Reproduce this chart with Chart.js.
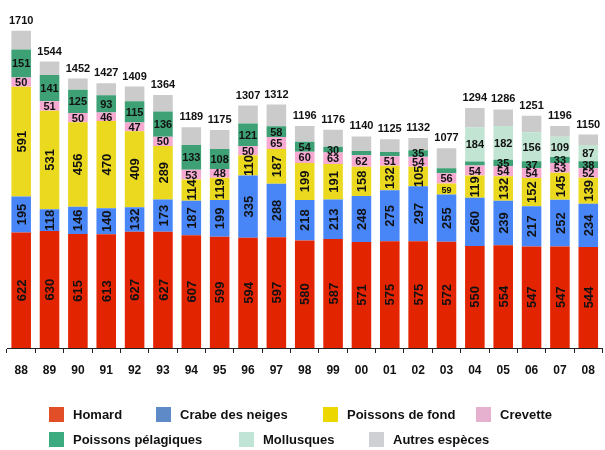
<!DOCTYPE html>
<html>
<head>
<meta charset="utf-8">
<script src="https://cdn.jsdelivr.net/npm/chart.js@4.4.1/dist/chart.umd.min.js"></script>
<style>
  html, body { margin: 0; padding: 0; background: #fff; }
  #wrap { width: 605px; height: 450px; position: relative; }
</style>
</head>
<body>
<div id="wrap"><canvas id="landings"></canvas></div>
<script>
const years = ['88', '89', '90', '91', '92', '93', '94', '95', '96', '97', '98', '99', '00', '01', '02', '03', '04', '05', '06', '07', '08'];

const homard = [622, 630, 615, 613, 627, 627, 607, 599, 594, 597, 580, 587, 571, 575, 575, 572, 550, 554, 547, 547, 544];
const crabe = [195, 118, 146, 140, 132, 173, 187, 199, 335, 288, 218, 213, 248, 275, 297, 255, 260, 239, 217, 252, 234];
const poissonsFond = [591, 531, 456, 470, 409, 289, 114, 119, 110, 187, 199, 191, 158, 132, 105, 59, 119, 132, 152, 145, 139];
const crevette = [50, 51, 50, 46, 47, 50, 53, 48, 50, 65, 60, 63, 62, 51, 54, 56, 54, 54, 54, 53, 52];
const pelagiques = [151, 141, 125, 93, 115, 136, 133, 108, 121, 58, 54, 30, 23, 23, 35, 27, 22, 35, 37, 33, 38];
const mollusques = [0, 0, 0, 0, 0, 0, 0, 0, 0, 0, 0, 0, 0, 0, 0, 0, 184, 182, 156, 109, 87];
const autres = [101, 73, 60, 65, 79, 89, 95, 102, 97, 117, 85, 92, 78, 69, 66, 108, 105, 90, 88, 57, 56];
const totals = [1710, 1544, 1452, 1427, 1409, 1364, 1189, 1175, 1307, 1312, 1196, 1176, 1140, 1125, 1132, 1077, 1294, 1286, 1251, 1196, 1150];

const FONT = 'Liberation Sans, Arial, Helvetica, sans-serif';

// value labels inside the segments + totals above each bar
const segmentLabels = {
    id: 'segmentLabels',
    afterDatasetsDraw(chart) {
        const ctx = chart.ctx;
        ctx.save();
        ctx.fillStyle = '#111';
        ctx.textAlign = 'center';
        ctx.textBaseline = 'middle';

        chart.data.datasets.forEach((ds, di) => {
            if (!ds.showValues) return;
            chart.getDatasetMeta(di).data.forEach((bar, i) => {
                const v = ds.data[i];
                if (!v || v < 30) return;
                const h = bar.base - bar.y;
                const cy = bar.y + h / 2;
                const txt = String(v);
                if (ds.vertical && h > 16) {
                    ctx.font = 'bold 13px ' + FONT;
                    ctx.save();
                    ctx.translate(bar.x, cy);
                    ctx.rotate(-Math.PI / 2);
                    ctx.fillText(txt, 0, 1);
                    ctx.restore();
                } else {
                    ctx.font = (ds.vertical ? 'bold 9px ' : 'bold 11px ') + FONT;
                    ctx.fillText(txt, bar.x, cy + 1);
                }
            });
        });

        const last = chart.getDatasetMeta(chart.data.datasets.length - 1);
        ctx.font = 'bold 11px ' + FONT;
        last.data.forEach((bar, i) => {
            ctx.fillText(String(totals[i]), bar.x, bar.y - 10);
        });
        ctx.restore();
    }
};

// legend laid out in two rows like the original
const legendRows = [[0, 1, 2, 3], [4, 5, 6]];
const legendX = [[49, 156, 323, 476], [49, 239, 369]];
const bottomLegend = {
    id: 'bottomLegend',
    afterDraw(chart) {
        const ctx = chart.ctx;
        ctx.save();
        ctx.font = 'bold 13px ' + FONT;
        ctx.textBaseline = 'middle';
        ctx.textAlign = 'left';
        legendRows.forEach((row, r) => {
            const y = chart.height - 35 + r * 25;
            row.forEach((di, k) => {
                const ds = chart.data.datasets[di];
                const x = legendX[r][k];
                ctx.fillStyle = ds.legendColor;
                ctx.fillRect(x, y - 8, 15, 15);
                ctx.fillStyle = '#111';
                ctx.fillText(ds.label, x + 24, y);
            });
        });
        ctx.restore();
    }
};

const data = {
    labels: years,
    datasets: [
        { label: 'Homard', data: homard, backgroundColor: '#e32400', legendColor: '#e24e28', showValues: true, vertical: true },
        { label: 'Crabe des neiges', data: crabe, backgroundColor: '#4886f8', legendColor: '#5f8ac8', showValues: true, vertical: true },
        { label: 'Poissons de fond', data: poissonsFond, backgroundColor: '#ebd920', legendColor: '#ecd800', showValues: true, vertical: true },
        { label: 'Crevette', data: crevette, backgroundColor: '#f6aad2', legendColor: '#e6b1cf', showValues: true },
        { label: 'Poissons pélagiques', data: pelagiques, backgroundColor: '#3ea175', legendColor: '#3dab80', showValues: true },
        { label: 'Mollusques', data: mollusques, backgroundColor: '#c2e4d3', legendColor: '#c0e4d6', showValues: true },
        { label: 'Autres espèces', data: autres, backgroundColor: '#cbcbcb', legendColor: '#cfd0d4' }
    ]
};

const config = {
    type: 'bar',
    data: data,
    options: {
        responsive: true,
        maintainAspectRatio: false,
        animation: false,
        datasets: {
            bar: { categoryPercentage: 1, barPercentage: 0.69, borderWidth: 0 }
        },
        layout: { padding: { top: 14, left: 7, right: 2, bottom: 62 } },
        plugins: {
            legend: { display: false },
            tooltip: { enabled: false }
        },
        scales: {
            x: {
                stacked: true,
                afterFit: (s) => { s.height = 40; },
                grid: { drawOnChartArea: false, drawTicks: true, tickLength: 5, color: '#222', offset: true },
                border: { display: true, color: '#222', width: 1 },
                ticks: { color: '#111', font: { family: FONT, size: 12, weight: 'bold' }, padding: 10 }
            },
            y: {
                stacked: true,
                display: false,
                min: 0,
                max: 1800
            }
        }
    },
    plugins: [segmentLabels, bottomLegend]
};

const chartLandings = new Chart(document.getElementById('landings'), config);
</script>
</body>
</html>
